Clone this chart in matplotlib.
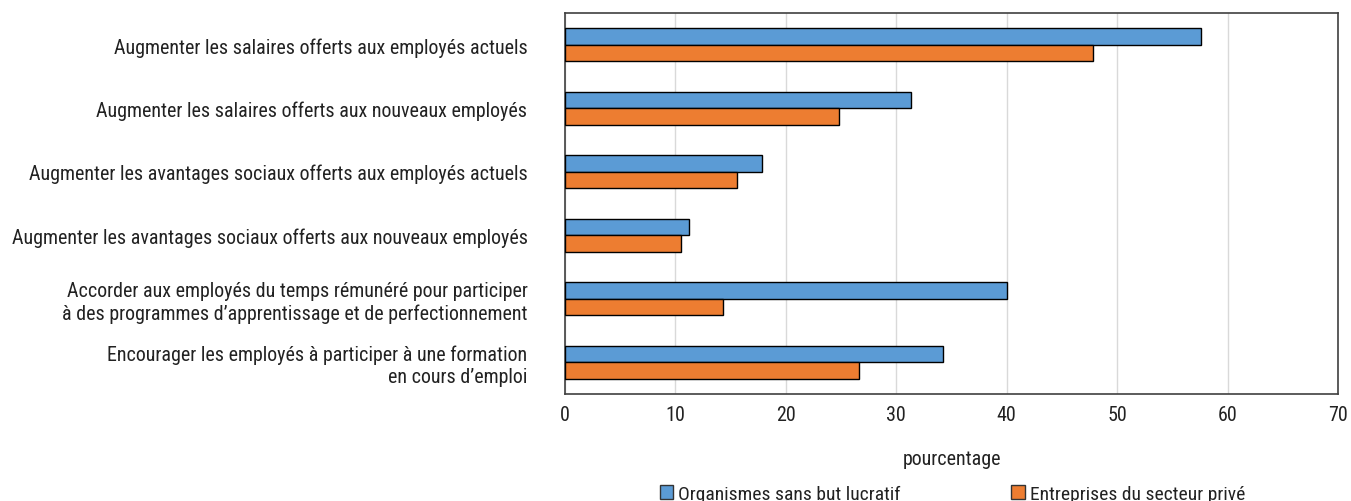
import matplotlib.pyplot as plt
import numpy as np
from matplotlib.patches import Patch

plt.rcParams['font.family'] = ['Roboto Condensed', 'Archivo Narrow', 'DejaVu Sans']

categories = [
    "Augmenter les salaires offerts aux employés actuels",
    "Augmenter les salaires offerts aux nouveaux employés",
    "Augmenter les avantages sociaux offerts aux employés actuels",
    "Augmenter les avantages sociaux offerts aux nouveaux employés",
    "Accorder aux employés du temps rémunéré pour participer\nà des programmes d’apprentissage et de perfectionnement",
    "Encourager les employés à participer à une formation\nen cours d’emploi",
]
nonprofit = [57.6, 31.3, 17.8, 11.2, 40.0, 34.2]
private = [47.8, 24.8, 15.6, 10.5, 14.3, 26.6]
series_names = ["Organismes sans but lucratif", "Entreprises du secteur privé"]
xticks = [0, 10, 20, 30, 40, 50, 60, 70]

blue = '#5B9BD5'
orange = '#ED7D31'

fig = plt.figure(figsize=(13.51, 5.02), dpi=100)
ax = fig.add_axes([565 / 1351, 1 - 395 / 502, (1338 - 565) / 1351, (395 - 14) / 502])

y = np.arange(len(categories))
h = 0.26
ax.barh(y - h / 2, nonprofit, height=h, color=blue, edgecolor='black', linewidth=1, zorder=3)
ax.barh(y + h / 2, private, height=h, color=orange, edgecolor='black', linewidth=1, zorder=3)

ax.set_ylim(len(categories) - 0.5, -0.5)
ax.set_xlim(0, 70)
ax.set_xticks(xticks)
ax.set_yticks(y)
ax.set_yticklabels(categories, fontsize=14.4, color='#222222', ha='right', multialignment='right')
ax.tick_params(axis='x', length=0, labelsize=14.4, colors='#222222', pad=8)
ax.tick_params(axis='y', length=0, colors='#222222', pad=27)
ax.grid(axis='x', color='#D9D9D9', linewidth=1, zorder=0)
for s in ax.spines.values():
    s.set_color('#404040')
    s.set_linewidth(1.2)

ax.set_xlabel("pourcentage", fontsize=14.4, color='#222222', labelpad=18)

handles = [Patch(facecolor=blue, edgecolor='#333333'), Patch(facecolor=orange, edgecolor='#333333')]
fig.legend(handles, series_names, loc='center left', bbox_to_anchor=(650 / 1351, 1 - 495 / 502),
           ncol=2, frameon=False, fontsize=14, handlelength=0.7, handleheight=0.7,
           handletextpad=0.25, columnspacing=5.7, borderpad=0, labelcolor='#222222')

plt.savefig("out.png", dpi=100)
plt.close()
